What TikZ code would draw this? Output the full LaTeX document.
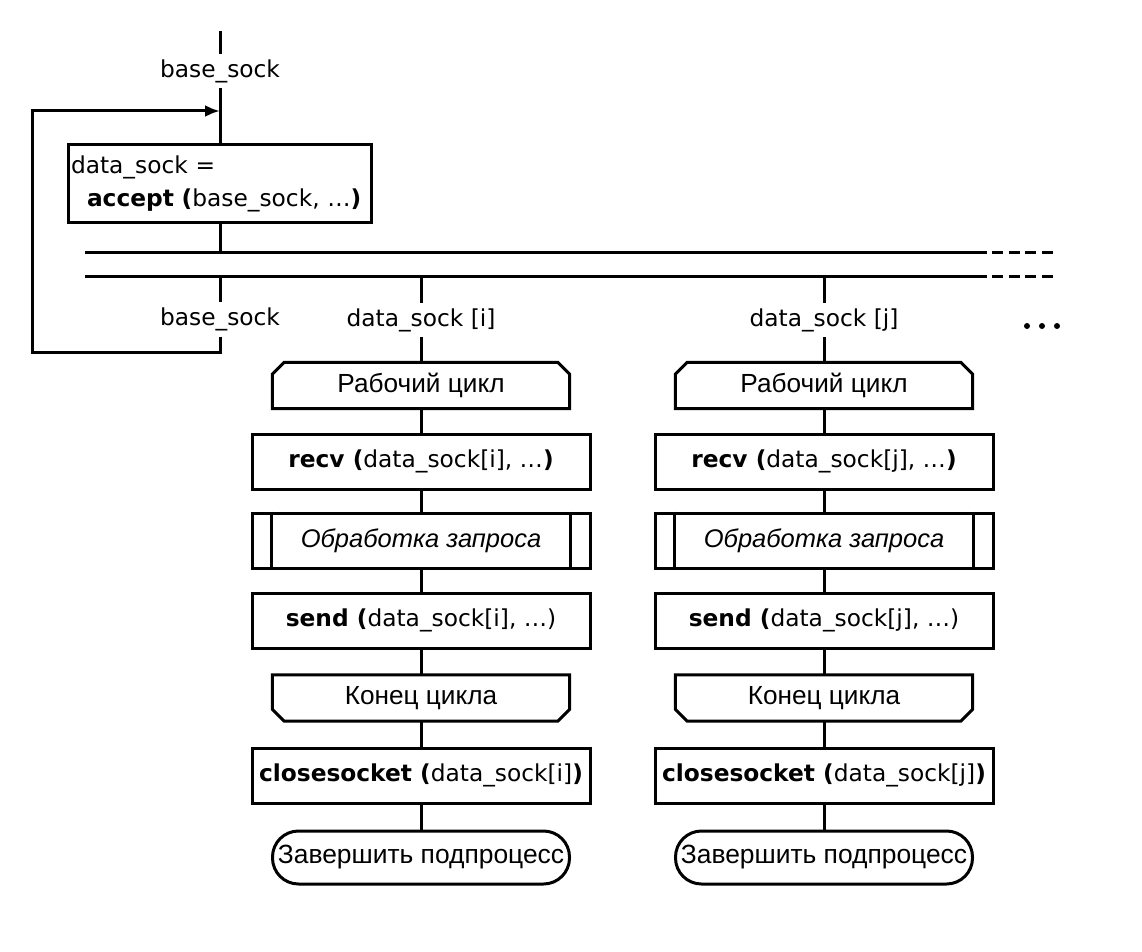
\documentclass[tikz,border=0pt]{standalone}
\usepackage{fontspec}
\setmainfont{DejaVu Sans}
\newfontfamily\cyr{Liberation Sans}
\usetikzlibrary{arrows.meta,calc}
\tikzset{
  x=1pt,y=-1pt,
  every node/.style={font=\fontsize{23.3}{33}\selectfont},
  ln/.style={line width=3pt},
  lbl/.style={inner sep=0pt,minimum height=34pt,minimum width=10pt},
  rbox/.style={draw,ln,minimum width=338pt,minimum height=55pt,inner sep=0pt},
  pbox/.style={rbox},
  hbox/.style={minimum width=297pt,minimum height=46pt,inner sep=0pt,font=\cyr\fontsize{26.2}{30}\selectfont},
  tbox/.style={draw,ln,rounded corners=26pt,minimum width=297pt,minimum height=53pt,inner sep=0pt,font=\cyr\fontsize{26.4}{30}\selectfont},
  dot/.style={circle,fill,inner sep=0pt,minimum size=6pt},
}
\newcommand{\loopstart}[1]{%
  \draw[ln,line join=miter] ($(#1.south west)$) -- ($(#1.north west)+(0,12)$) -- ($(#1.north west)+(12,0)$) -- ($(#1.north east)+(-12,0)$) -- ($(#1.north east)+(0,12)$) -- (#1.south east) -- cycle;}
\newcommand{\loopend}[1]{%
  \draw[ln,line join=miter] (#1.north west) -- ($(#1.south west)+(0,-12)$) -- ($(#1.south west)+(12,0)$) -- ($(#1.south east)+(-12,0)$) -- ($(#1.south east)+(0,-12)$) -- (#1.north east) -- cycle;}
\newcommand{\predef}[1]{%
  \draw[ln] ([xshift=21pt]#1.north west) -- ([xshift=21pt]#1.south west);
  \draw[ln] ([xshift=-21pt]#1.north east) -- ([xshift=-21pt]#1.south east);}
\begin{document}
\begin{tikzpicture}
\useasboundingbox (0,0) rectangle (1142,952);
% left column
\coordinate (top) at (220,31);
\node[lbl] (bs1) at (220,71) {base\_sock};
\node[draw,ln,minimum width=303pt,minimum height=77pt,text width=298pt,inner xsep=2.5pt,inner ysep=0pt,align=left] (acc) at (220,183.5)
  {data\_sock =\\\hspace*{16pt}\textbf{accept (}base\_sock, …\textbf{)}};
\coordinate (b1L) at (85,252);
\coordinate (b1R) at (987,252);
\coordinate (b1D) at (992,252);
\coordinate (b1E) at (1054,252);
\coordinate (b2L) at (85,276);
\coordinate (b2R) at (987,276);
\coordinate (b2D) at (992,276);
\coordinate (b2E) at (1054,276);
\coordinate (acb) at (220,252);
\coordinate (bs2t) at (220,276);
\node[lbl] (bs2) at (220,319.5) {base\_sock};
\coordinate (c1) at (220,352);
\coordinate (c2) at (32,352);
\coordinate (c3) at (32,111);
\coordinate (c4) at (220,111);

\draw[ln] (top) -- (bs1.north);
\draw[ln] (bs1.south) -- (acc.north);
\draw[ln] (acc.south) -- (acb);
\draw[ln] (b1L) -- (b1R);
\draw[ln] (b2L) -- (b2R);
\draw[ln,dash pattern=on 11pt off 5.5pt] (b1D) -- (b1E);
\draw[ln,dash pattern=on 11pt off 5.5pt] (b2D) -- (b2E);
\draw[ln] (bs2t) -- (bs2.north);
\draw[ln,-{Latex[length=15pt,width=12pt]}] (bs2.south) -- (c1) -- (c2) -- (c3) -- (c4);

\node[dot] (d1) at (1027,326) {};
\node[dot] (d2) at (1042,326) {};
\node[dot] (d3) at (1057,326) {};

% columns i and j
\foreach \cx/\k in {421/i,824/j}{
  \coordinate (t\k) at (\cx,276);
  \node[lbl] (l\k) at (\cx,320) {data\_sock [\k]};
  \node[hbox] (ls\k) at (\cx,385.5) {Рабочий цикл};
  \node[rbox] (rv\k) at (\cx,461.5) {\textbf{recv (}data\_sock[\k], …\textbf{)}};
  \node[pbox] (pr\k) at (\cx,540.5) {\cyr\itshape\fontsize{25.5}{30}\selectfont Обработка запроса};
  \node[rbox] (sd\k) at (\cx,620.5) {\textbf{send (}data\_sock[\k], …)};
  \node[hbox] (le\k) at (\cx,698) {Конец цикла};
  \node[rbox] (cs\k) at (\cx,775.5) {\textbf{closesocket (}data\_sock[\k]\textbf{)}};
  \node[tbox] (te\k) at (\cx,857.5) {Завершить подпроцесс};
  \loopstart{ls\k}
  \predef{pr\k}
  \loopend{le\k}
  \draw[ln] (t\k) -- (l\k.north);
  \draw[ln] (l\k.south) -- (ls\k.north);
  \draw[ln] (ls\k.south) -- (rv\k.north);
  \draw[ln] (rv\k.south) -- (pr\k.north);
  \draw[ln] (pr\k.south) -- (sd\k.north);
  \draw[ln] (sd\k.south) -- (le\k.north);
  \draw[ln] (le\k.south) -- (cs\k.north);
  \draw[ln] (cs\k.south) -- (te\k.north);
}
\end{tikzpicture}
\end{document}
